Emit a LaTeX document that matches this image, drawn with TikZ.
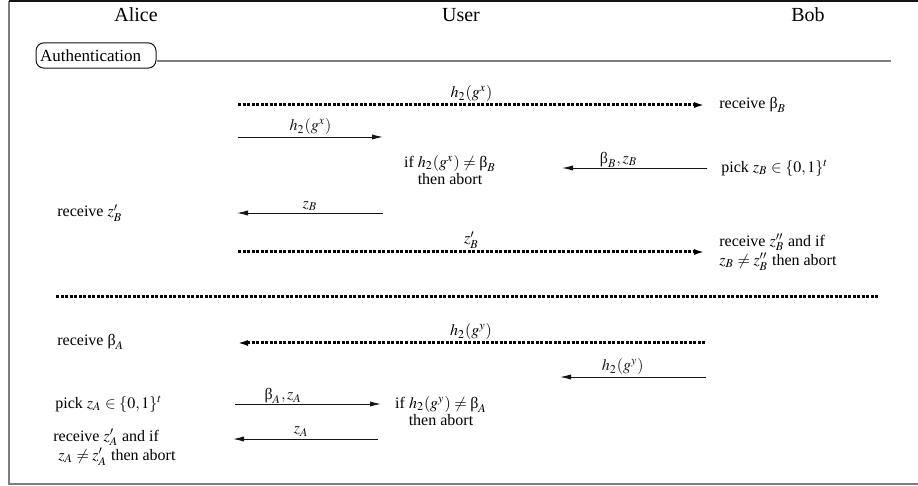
\documentclass[tikz,border=0pt]{standalone}
\usepackage{mathptmx}
\usepackage[no-math]{fontspec}
\setmainfont{Liberation Serif}
\usepackage{tikz}
\usetikzlibrary{arrows.meta, positioning}
\definecolor{mydark}{RGB}{20,20,20}
\definecolor{mygray}{RGB}{125,125,125}
\newcommand{\ubeta}{\mbox{β}}
\tikzset{
  party/.style={font=\fontsize{10}{12}\selectfont},
  msg/.style={font=\fontsize{8}{9.6}\selectfont, align=left, anchor=west, inner sep=0pt},
  check/.style={font=\fontsize{8}{6}\selectfont, align=center, inner sep=0pt},
  lbl/.style={font=\fontsize{8}{9}\selectfont, above, inner sep=1pt},
  phasebox/.style={rectangle, draw=mydark, rounded corners=4pt, line width=0.5pt,
    font=\fontsize{8.5}{10}\selectfont, text width=56pt, align=left,
    inner xsep=2pt, minimum height=12.5pt},
  phaseline/.style={line width=0.9pt, color=mygray},
  frame/.style={line width=0.6pt, color=mygray},
  arrow/.style={-{Latex[length=5.5pt,width=2.6pt]}, line width=0.45pt, color=mydark},
  dotarrow/.style={-{Latex[length=5.5pt,width=3pt]}, line width=1.5pt,
    dash pattern=on 1.5pt off 0.75pt, color=black},
  dotline/.style={line width=1.5pt, dash pattern=on 1.5pt off 0.75pt, color=black}
}

\begin{document}
\begin{tikzpicture}[x=0.5pt, y=-0.5pt, node distance=0.2cm]
  \useasboundingbox (0,0) rectangle (918,486);

  \coordinate (ftr) at (925,1);
  \coordinate (ftl) at (9,1);
  \coordinate (fbl) at (9,484);
  \coordinate (fbr) at (925,484);
  \draw[frame] (fbr) -- (fbl) -- (ftl);
  \draw[frame, color=mydark] (ftl) -- (ftr);

  \node[party] (alice) at (136,15) {Alice};
  \node[party] (user) at (461,15) {User};
  \node[party] (bob) at (808,15) {Bob};

  \node[phasebox] (auth) at (96,55.5) {Authentication};
  \coordinate (authend) at (891,61);
  \draw[phaseline] (auth.east |- authend) -- (authend);

  % Bob -> Alice
  \coordinate (u1) at (238,105);
  \coordinate (b1) at (705,105);
  \draw[dotarrow] (u1) -- (b1) node[midway, lbl] (l1) {$h_2(g^x)$};
  \node[msg, right=7pt of b1] (recvbB) {receive $\ubeta_B$};

  \coordinate (a2) at (238,137);
  \coordinate (u2) at (383,137);
  \draw[arrow] (a2) -- (u2) node[midway, lbl] (l2) {$h_2(g^x)$};

  \node[check] (chkB) at (450,170) {if $h_2(g^x)\neq\ubeta_B$\\then abort};
  \coordinate (b3) at (707,168);
  \coordinate (u3) at (562,168);
  \draw[arrow] (b3) -- (u3) node[pos=0.61, lbl, inner sep=0pt] (l3) {$\ubeta_B, z_B$};
  \node[msg, right=7pt of b3] (pickB) {pick $z_B\in\{0,1\}^t$};

  \node[msg] (recvzB) at (57,213) {receive $z'_B$};
  \coordinate (u4) at (383,213);
  \coordinate (a4) at (237,213);
  \draw[arrow] (u4) -- (a4) node[midway, lbl] (l4) {$z_B$};

  \coordinate (a5) at (238,252);
  \coordinate (b5) at (705,252);
  \draw[dotarrow] (a5) -- (b5) node[midway, lbl] (l5) {$z'_B$};
  \node[msg, right=7pt of b5] (recvzzB) {receive $z''_B$ and if\\$z_B\neq z''_B$ then abort};

  \coordinate (sepl) at (56,297);
  \coordinate (sepr) at (879,297);
  \draw[dotline] (sepl) -- (sepr);

  % Alice -> Bob
  \node[msg] (recvbA) at (57,342) {receive $\ubeta_A$};
  \coordinate (b6) at (705,343);
  \coordinate (a6) at (237,343);
  \draw[dotarrow] (b6) -- (a6) node[midway, lbl] (l6) {$h_2(g^y)$};

  \coordinate (b7) at (706,377);
  \coordinate (u7) at (560,377);
  \draw[arrow] (b7) -- (u7) node[pos=0.57, lbl] (l7) {$h_2(g^y)$};

  \node[msg] (pickA) at (55,404) {pick $z_A\in\{0,1\}^t$};
  \coordinate (a8) at (235,404);
  \coordinate (u8) at (381,404);
  \draw[arrow] (a8) -- (u8) node[pos=0.33, lbl, inner sep=0pt] (l8) {$\ubeta_A, z_A$};
  \node[check] (chkA) at (441,411) {if $h_2(g^y)\neq\ubeta_A$\\then abort};

  \coordinate (u9) at (378,439);
  \coordinate (a9) at (233,439);
  \draw[arrow] (u9) -- (a9) node[pos=0.53, lbl] (l9) {$z_A$};
  \node[msg] (recvzA) at (53,447) {receive $z'_A$ and if\\\hspace*{2.5pt}$z_A\neq z'_A$ then abort};
\end{tikzpicture}
\end{document}
